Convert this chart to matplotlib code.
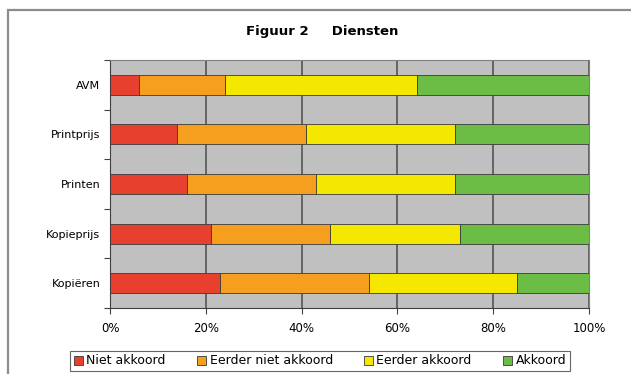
import matplotlib.pyplot as plt
from matplotlib.patches import Rectangle
import numpy as np

# diensten, bottom to top as drawn
categories = ["Kopiëren", "Kopieprijs", "Printen", "Printprijs", "AVM"]
series_names = ["Niet akkoord", "Eerder niet akkoord", "Eerder akkoord", "Akkoord"]
niet_akkoord = [23, 21, 16, 14, 6]
eerder_niet_akkoord = [31, 25, 27, 27, 18]
eerder_akkoord = [31, 27, 29, 31, 40]
akkoord = [15, 27, 28, 28, 36]
x_ticks = [0, 20, 40, 60, 80, 100]
x_tick_labels = ["0%", "20%", "40%", "60%", "80%", "100%"]

colors = ["#E8402E", "#F69E1E", "#F4E800", "#6CBD45"]

fig = plt.figure(figsize=(6.31, 3.74), dpi=100)
fig.patch.set_facecolor("white")

# chart area border
fig.patches.append(Rectangle((8 / 631, -0.05), 1.0, 1 - 10 / 374 + 0.05,
                             transform=fig.transFigure, fill=False,
                             edgecolor="#8c8c8c", linewidth=1.6))

ax = fig.add_axes([110 / 631, 66 / 374, 479 / 631, 248 / 374])
ax.set_facecolor("#C0C0C0")

y = np.arange(len(categories))
left = np.zeros(len(categories))
for name, vals, col in zip(series_names,
                           [niet_akkoord, eerder_niet_akkoord, eerder_akkoord, akkoord],
                           colors):
    ax.barh(y, vals, left=left, height=0.4, color=col, edgecolor="#3a3a3a",
            linewidth=0.6, label=name, zorder=3)
    left += np.array(vals)

ax.set_xlim(0, 100)
ax.set_ylim(-0.5, len(categories) - 0.5)
ax.set_xticks(x_ticks)
ax.set_xticklabels(x_tick_labels, fontsize=8.5)
ax.xaxis.grid(True, color="#555555", linewidth=1.2, zorder=1)
ax.set_axisbelow(True)

# ticks between categories, labels at centres
ax.set_yticks(np.arange(len(categories) + 1) - 0.5)
ax.set_yticklabels([])
ax.set_yticks(y, minor=True)
ax.set_yticklabels(categories, minor=True, fontsize=8)
ax.tick_params(axis="y", which="minor", length=0, pad=7)
ax.tick_params(axis="y", which="major", length=4, direction="out", color="#404040")
ax.tick_params(axis="x", length=4, direction="out", color="#404040", pad=6)

for side in ["top", "right"]:
    ax.spines[side].set_color("#808080")
for side in ["left", "bottom"]:
    ax.spines[side].set_color("#404040")

fig.text(0.51, 1 - 31 / 374, "Figuur 2     Diensten", ha="center", va="center",
         fontsize=9.5, fontweight="bold")

leg = fig.legend(loc="center", bbox_to_anchor=(320 / 631, 1 - 361 / 374), ncol=4,
                 fontsize=9, frameon=True, fancybox=False, edgecolor="#404040",
                 handlelength=0.7, handleheight=0.7, handletextpad=0.3,
                 columnspacing=2.5, borderpad=0.3, borderaxespad=0)
leg.get_frame().set_linewidth(0.8)

fig.savefig("out.png", dpi=100)
